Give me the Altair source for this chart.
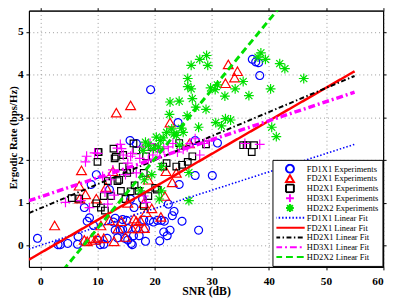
import altair as alt
import pandas as pd

# ---------------- data ----------------
exp_names = ["FD1X1 Experiments", "FD2X1 Experiments", "HD2X1 Experiments",
             "HD3X1 Experiments", "HD2X2 Experiments"]
fit_names = ["FD1X1 Linear Fit", "FD2X1 Linear Fit", "HD2X1 Linear Fit",
             "HD3X1 Linear Fit", "HD2X2 Linear Fit"]

fd1x1_x = [-0.5, 3.1, 3.5, 4.8, 6.5, 6.6, 7.7, 8.2, 8.6, 8.9, 9.8, 10.1, 10.5, 11.1, 11.7,
           12.1, 13.1, 13.5, 14.0, 14.4, 14.8, 15.1, 15.7, 15.8, 15.9, 16.1, 16.3, 16.4,
           16.7, 16.8, 17.9, 18.1, 18.4, 19.1, 19.3, 19.8, 20.9, 21.2, 21.7, 22.2, 22.4,
           22.7, 23.1, 23.4, 24.1, 24.3, 24.8, 27.1, 27.1, 27.7, 30.1, 31.0, 37.1, 37.7,
           38.2, 38.4, 13.1, 14.4, 15.3, 15.3, 18.4, 17.3, 21.6, 20.5, 12.8, 9.3]
fd1x1_y = [0.17, 0.02, 0.02, 0.05, 0.03, 0.21, 0.89, 0.57, 0.65, 1.43, 1.66, 0.12, 0.02, 0.03, 0.17,
           1.31, 0.36, 0.18, 0.36, 0.38, 0.17, 0.59, 2.46, 1.09, 0.05, 0.02, 0.23, 0.89,
           0.40, 2.39, 1.09, 0.60, 0.40, 0.59, 3.65, 0.55, 0.11, 0.59, 0.57, 0.23, 0.97,
           0.36, 0.70, 0.80, 2.88, 1.43, 0.57, 1.64, 2.46, 0.36, 1.64, 2.40, 4.36, 4.30,
           4.28, 3.98, 0.64, 0.61, 0.40, 0.13, 0.10, 0.23, 0.32, 0.59, 0.55, 0.47]

fd2x1_x = [2.5, 7.2, 6.8, 6.9, 7.9, 7.7, 8.2, 9.0, 9.6, 9.8, 10.1, 10.6, 11.1, 11.5, 12.1,
           12.7, 12.9, 13.3, 13.6, 14.2, 14.9, 15.3, 15.8, 16.1, 16.4, 16.8, 17.2, 17.5,
           18.1, 18.2, 18.5, 18.9, 19.5, 21.1, 21.8, 22.0, 22.7, 23.1, 23.8, 26.1, 32.4,
           32.9, 34.0, 34.5]
fd2x1_y = [0.47, 1.76, 1.40, 1.10, 1.20, 0.13, 0.10, 0.17, 0.13, 1.10, 0.18, 0.47, 0.17, 1.37, 0.59,
           1.74, 0.10, 3.11, 0.40, 0.57, 0.20, 1.00, 3.28, 0.40, 0.63, 0.57, 0.40, 0.59,
           0.99, 0.41, 0.78, 1.54, 0.87, 0.67, 1.16, 1.74, 2.88, 1.48, 1.70, 2.39, 3.80,
           4.24, 3.93, 4.08]

hd2x1_x = [5.5, 6.8, 10.1, 10.0, 10.2, 9.8, 10.6, 11.1, 11.3, 11.8, 12.4, 12.8, 13.0, 13.2,
           13.5, 13.8, 14.1, 14.4, 14.5, 14.9, 15.2, 15.7, 15.8, 16.3, 16.5, 16.8, 17.2,
           18.1, 18.1, 18.5, 18.9, 19.5, 20.1, 20.4, 21.5, 22.1, 23.8, 24.3, 24.8, 25.8,
           26.6, 29.0, 35.5, 36.1, 37.0, 37.4]
hd2x1_y = [1.11, 1.10, 2.19, 1.96, 2.19, 0.99, 0.89, 1.16, 0.82, 1.51, 1.16, 2.27, 2.04, 2.08,
           1.51, 1.54, 1.28, 1.85, 2.12, 1.09, 1.70, 1.77, 1.27, 2.39, 1.41, 2.23, 1.28,
           1.70, 0.93, 2.09, 1.16, 2.31, 1.35, 1.31, 1.85, 1.93, 1.85, 2.40, 1.89, 1.96,
           2.09, 2.37, 2.35, 2.35, 2.19, 2.35]

hd3x1_x = [4.4, 7.1, 7.9, 8.1, 8.6, 9.5, 10.0, 10.9, 11.3, 11.8, 12.3, 12.7, 12.9, 13.5, 14.0,
           14.2, 14.5, 14.9, 15.3, 15.8, 16.1, 16.8, 17.4, 17.8, 18.1, 18.5, 18.9, 19.2,
           19.7, 20.5, 20.9, 21.6, 22.4, 23.2, 24.0, 25.0, 25.7, 26.2, 27.1, 27.9, 28.7,
           29.5, 35.8, 38.4]
hd3x1_y = [1.01, 1.05, 1.96, 2.09, 0.89, 2.17, 2.16, 1.62, 1.25, 0.97, 1.54, 1.77, 1.18, 2.28, 2.37,
           2.27, 2.12, 1.66, 1.93, 2.09, 2.16, 1.70, 2.04, 2.31, 1.16, 1.01, 2.00, 2.39,
           2.12, 2.27, 2.19, 2.27, 2.31, 2.39, 2.19, 2.25, 2.31, 2.39, 2.50, 2.12, 2.39,
           2.45, 2.39, 2.37]

hd2x2_x = [26.0, 20.8, 21.2, 17.5, 18.2, 19.5, 21.2, 18.0, 18.4, 18.9, 19.8, 20.3, 20.7, 21.0,
           21.5, 22.1, 22.6, 23.0, 22.7, 23.4, 23.8, 24.3, 24.7, 25.0, 25.7, 25.8, 25.8,
           26.4, 26.4, 26.6, 26.0, 27.2, 27.7, 27.9, 29.0, 29.1, 29.3, 29.8, 30.6, 30.7,
           31.0, 31.7, 32.3, 32.4, 33.3, 34.1, 35.5, 36.5, 38.1, 38.6, 39.4, 40.3, 40.5,
           41.3, 41.9, 42.8, 46.1, 24.4]
hd2x2_y = [1.05, 1.09, 1.28, 1.28, 1.54, 1.66, 1.85, 2.23, 2.42, 2.35, 2.27, 2.54, 2.31, 2.46,
           2.52, 2.65, 3.07, 2.73, 3.36, 2.61, 2.58, 3.38, 2.75, 2.65, 3.04, 3.91, 3.72,
           3.67, 4.22, 3.44, 1.71, 3.24, 2.77, 4.36, 3.19, 4.45, 4.22, 3.69, 3.65, 2.88,
           3.76, 2.80, 3.50, 2.97, 2.94, 3.67, 3.84, 3.51, 4.41, 4.51, 4.36, 3.67, 2.77,
           2.55, 4.26, 4.14, 3.91, 2.35]

fit_x = [-2, 55]
fd1x1_fit_y = [-0.08, 2.37]
fd2x1_fit_y = [-0.33, 4.08]
hd2x1_fit_y = [0.76, 3.97]
hd3x1_fit_y = [1.05, 3.59]
hd2x2_fit_y = [-1.55, 7.71]

x_ticks = [0, 10, 20, 30, 40, 50, 60]
y_ticks = [0, 1, 2, 3, 4, 5]

# ---------------- styles ----------------
colors = ["#0000ff", "#ff0000", "#000000", "#ff00ff", "#00e000"]
plus_path = "M-1,0H1M0,-1V1"
star_path = "M-1,0H1M0,-1V1M-0.72,-0.72L0.72,0.72M-0.72,0.72L0.72,-0.72"
line_path = "M-3.75,0H3.75"
marker_shapes = ["circle", "triangle-up", "square", plus_path, star_path]
marker_sizes = [64, 100, 45, 100, 100]
fit_dashes = [[1.5, 2], [1, 0], [5, 2.5, 1.5, 2.5], [7, 3, 2, 3], [7, 4]]
fit_widths = [1.6, 2.5, 2.0, 3.5, 3.0]

all_names = exp_names + fit_names
color_scale = alt.Scale(domain=all_names, range=colors + colors)
shape_scale = alt.Scale(domain=all_names, range=marker_shapes + [line_path] * 5)
dash_scale = alt.Scale(domain=all_names, range=[[1, 0]] * 5 + fit_dashes)

xscale = alt.Scale(domain=[-2, 60], nice=False, zero=False)
yscale = alt.Scale(domain=[-0.5, 5.5], nice=False, zero=False)

x_axis = alt.Axis(values=x_ticks, title="SNR (dB)", grid=True, labelBaseline="alphabetic",
                  labelPadding=14.5, titleY=28.3, titleBaseline="alphabetic")
y_axis = alt.Axis(values=y_ticks, title="Ergodic Rate (bps/Hz)", grid=True, labelPadding=3,
                  titleX=-13, titleY=129, titleBaseline="alphabetic", titleAlign="center",
                  titleAngle=270, titleFontSize=11)

exp_sets = [(fd1x1_x, fd1x1_y), (fd2x1_x, fd2x1_y), (hd2x1_x, hd2x1_y),
            (hd3x1_x, hd3x1_y), (hd2x2_x, hd2x2_y)]
fit_sets = [fd1x1_fit_y, fd2x1_fit_y, hd2x1_fit_y, hd3x1_fit_y, hd2x2_fit_y]

legend = alt.Legend(title=None, symbolSize=64, clipHeight=10)

layers = []
for i, (xs, ys) in enumerate(exp_sets):
    df = pd.DataFrame({"x": xs, "y": ys, "series": exp_names[i]})
    first = i == 0
    leg = legend if first else None
    layers.append(
        alt.Chart(df).mark_point(filled=False, size=marker_sizes[i], strokeWidth=1.2, opacity=1).encode(
            x=alt.X("x:Q", scale=xscale, axis=x_axis if first else None),
            y=alt.Y("y:Q", scale=yscale, axis=y_axis if first else None),
            color=alt.Color("series:N", scale=color_scale, legend=leg),
            shape=alt.Shape("series:N", scale=shape_scale, legend=leg),
            strokeDash=alt.StrokeDash("series:N", scale=dash_scale, legend=leg),
        )
    )

for i, ys in enumerate(fit_sets):
    df = pd.DataFrame({"x": fit_x, "y": ys})
    layers.append(
        alt.Chart(df).mark_line(color=colors[i], strokeDash=fit_dashes[i],
                                strokeWidth=fit_widths[i], clip=True).encode(
            x=alt.X("x:Q", scale=xscale, axis=None),
            y=alt.Y("y:Q", scale=yscale, axis=None),
        )
    )

frame_df = pd.DataFrame({"x": fit_x, "y": fd2x1_fit_y})
frame = alt.Chart(frame_df).mark_line(opacity=0, clip=True).encode(
    x=alt.X("x:Q", scale=xscale,
            axis=alt.Axis(orient="top", values=x_ticks, labels=False, title=None, grid=False)),
    y=alt.Y("y:Q", scale=yscale,
            axis=alt.Axis(orient="right", values=y_ticks, labels=False, title=None, grid=False)),
)
layers.append(frame)

chart = alt.layer(*layers).resolve_axis(x="independent", y="independent").properties(
    width=360.7, height=261,
    autosize=alt.AutoSizeParams(type="none"),
    padding={"left": 21.3, "top": 0, "right": 8, "bottom": 30},
    background="white",
).configure_view(
    stroke="black", strokeWidth=1
).configure_axis(
    labelFont="Liberation Serif", labelFontWeight="bold", labelFontSize=11.5, labelColor="black",
    titleFont="Liberation Serif", titleFontWeight="bold", titleFontSize=12, titleColor="black",
    tickColor="black", tickSize=3, tickWidth=1, domainColor="black", domainWidth=1,
    gridColor="#999999", gridDash=[1, 3], gridWidth=1,
).configure_legend(
    orient="bottom-right", offset=1, padding=4, rowPadding=0,
    symbolSize=64, symbolStrokeWidth=2, symbolOffset=8.8, labelOffset=12.2,
    labelFont="Liberation Serif", labelFontSize=8.6, labelColor="black",
    fillColor="white", strokeColor="black", strokeWidth=1, cornerRadius=0,
)

chart.save("out.html", embed_options={"renderer": "svg", "actions": False})
